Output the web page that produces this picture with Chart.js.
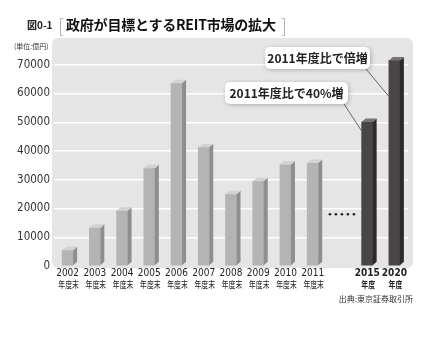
<!DOCTYPE html>
<html lang="ja">
<head>
<meta charset="utf-8">
<title>政府が目標とするREIT市場の拡大</title>
<script src="https://cdn.jsdelivr.net/npm/chart.js@4.4.1/dist/chart.umd.min.js"></script>
<style>
  body { margin: 0; background: #fff; }
  #wrap { position: relative; width: 441px; height: 340px; font-family: "Noto Sans CJK JP", sans-serif; }
  #wrap canvas { position: absolute; left: 0; top: 0; }
  .fig { position: absolute; left: 27px; top: 17px; font-size: 10px; font-weight: bold; color: #222; }
  .br { position: absolute; top: 11px; font-size: 19px; font-weight: 300; color: #aaa; }
  .ttl { position: absolute; left: 66px; top: 14px; font-size: 14px; font-weight: bold; color: #111; letter-spacing: -0.2px; }
  .unit { position: absolute; left: 14px; top: 41px; font-size: 7px; color: #333; }
  .src { position: absolute; right: 28px; top: 293px; font-size: 8px; color: #333; }
</style>
</head>
<body>
<div id="wrap">
  <canvas id="reitChart" width="441" height="340"></canvas>
  <span class="fig">図0-1</span>
  <span class="br" style="left:58px">[</span>
  <span class="ttl">政府が目標とするREIT市場の拡大</span>
  <span class="br" style="left:281px">]</span>
  <span class="unit">(単位:億円)</span>
  <span class="src">出典:東京証券取引所</span>
</div>
<script>
// 年度 (index 10 is the gap shown with dots)
const years = ['2002', '2003', '2004', '2005', '2006', '2007', '2008', '2009', '2010', '2011', '', '2015', '2020'];
const yearSuffix = ['年度末', '年度末', '年度末', '年度末', '年度末', '年度末', '年度末', '年度末', '年度末', '年度末', '', '年度', '年度'];
// 市場規模 (億円)
const marketSize = [5500, 13300, 19200, 34000, 63600, 41300, 25000, 29500, 35300, 35800, null, 50100, 71500];
const yTickStep = 10000;
const yTickMax = 80000;
const gapIndex = 10;
const dotsLevel = 18000;

const narrow = "'Liberation Sans Narrow', 'DejaVu Sans Condensed', 'Noto Sans CJK JP', sans-serif";
const isTarget = i => i > gapIndex;

// bar faces: front / side / top
const lightFace = ['#b4b4b4', '#8e8e8e', '#d2d2d2'];
const darkFace = ['#4a4647', '#2d2a2b', '#787475'];

const panelBg = {
  id: 'panelBg',
  beforeDraw(chart) {
    const { ctx, chartArea: a } = chart;
    const x = a.left - 2, y = 38, w = a.right + 5 - x, h = a.bottom + 2 - y, r = 6;
    ctx.save();
    ctx.fillStyle = '#e5e5e5';
    ctx.beginPath();
    ctx.roundRect(x, y, w, h, r);
    ctx.fill();
    ctx.restore();
  }
};

const bars3d = {
  id: 'bars3d',
  afterDatasetsDraw(chart) {
    const { ctx } = chart;
    const d = 4, dy = 3.5;
    chart.getDatasetMeta(0).data.forEach((bar, i) => {
      if (marketSize[i] == null) return;
      const { x, y, base, width } = bar.getProps(['x', 'y', 'base', 'width'], true);
      const l = x - width / 2, r = x + width / 2;
      const face = isTarget(i) ? darkFace : lightFace;
      ctx.save();
      ctx.fillStyle = face[1];
      ctx.beginPath();
      ctx.moveTo(r, y);
      ctx.lineTo(r + d, y - dy);
      ctx.lineTo(r + d, base - dy);
      ctx.lineTo(r, base);
      ctx.closePath();
      ctx.fill();
      ctx.fillStyle = face[2];
      ctx.beginPath();
      ctx.moveTo(l, y);
      ctx.lineTo(l + d, y - dy);
      ctx.lineTo(r + d, y - dy);
      ctx.lineTo(r, y);
      ctx.closePath();
      ctx.fill();
      ctx.restore();
    });
  }
};

// second line under the year ticks, squeezed like a condensed gothic
const suffixLabels = {
  id: 'suffixLabels',
  afterDraw(chart) {
    const { ctx, scales, chartArea } = chart;
    ctx.save();
    ctx.fillStyle = '#222';
    ctx.textAlign = 'center';
    ctx.textBaseline = 'middle';
    yearSuffix.forEach((s, i) => {
      if (!s) return;
      ctx.save();
      ctx.translate(scales.x.getPixelForValue(i) + 1, chartArea.bottom + 18);
      ctx.scale(0.72, 1);
      ctx.font = (isTarget(i) ? 'bold ' : '') + "9.5px 'Noto Sans CJK JP', sans-serif";
      ctx.fillText(s, 0, 0);
      ctx.restore();
    });
    ctx.restore();
  }
};

function callout(ctx, text, bx, by, bw, bh, tx, ty) {
  ctx.save();
  ctx.strokeStyle = '#444';
  ctx.lineWidth = 0.8;
  ctx.beginPath();
  ctx.moveTo(bx + bw - 4, by + bh);
  ctx.lineTo(tx, ty);
  ctx.stroke();
  ctx.shadowColor = 'rgba(0,0,0,0.25)';
  ctx.shadowBlur = 4;
  ctx.shadowOffsetX = 1;
  ctx.shadowOffsetY = 1;
  ctx.fillStyle = '#fff';
  ctx.beginPath();
  ctx.roundRect(bx, by, bw, bh, 5);
  ctx.fill();
  ctx.shadowColor = 'transparent';
  ctx.fillStyle = '#222';
  ctx.font = "bold 12px 'Noto Sans CJK JP', sans-serif";
  ctx.textAlign = 'center';
  ctx.textBaseline = 'middle';
  ctx.fillText(text, bx + bw / 2, by + bh / 2 + 0.5);
  ctx.restore();
}

const notes = {
  id: 'notes',
  afterDraw(chart) {
    const { ctx, scales } = chart;
    const meta = chart.getDatasetMeta(0).data;
    // gap dots
    const cx = scales.x.getPixelForValue(gapIndex) + 2;
    const cy = scales.y.getPixelForValue(dotsLevel);
    ctx.save();
    ctx.fillStyle = '#222';
    for (let k = -2; k <= 2; k++) {
      ctx.beginPath();
      ctx.arc(cx + k * 6, cy, 1.3, 0, Math.PI * 2);
      ctx.fill();
    }
    ctx.restore();
    const b15 = meta[11], b20 = meta[12];
    callout(ctx, '2011年度比で40%増', 225, 82, 123, 22, b15.x - b15.width / 2, b15.y + 9);
    callout(ctx, '2011年度比で倍増', 265, 47, 105, 22, b20.x - b20.width / 2, b20.y + 36);
  }
};

new Chart(document.getElementById('reitChart'), {
  type: 'bar',
  data: {
    labels: years,
    datasets: [{
      data: marketSize,
      backgroundColor: marketSize.map((v, i) => isTarget(i) ? darkFace[0] : lightFace[0]),
      barThickness: 11,
      borderWidth: 0
    }]
  },
  plugins: [panelBg, bars3d, suffixLabels, notes],
  options: {
    responsive: false,
    animation: false,
    devicePixelRatio: 1,
    layout: { padding: { left: 0, right: 33, top: 36, bottom: 44 } },
    plugins: { legend: { display: false }, tooltip: { enabled: false } },
    scales: {
      x: {
        grid: { display: false, drawTicks: false },
        border: { display: false },
        afterFit(s) { s.height = 30; },
        ticks: {
          padding: 2,
          maxRotation: 0,
          autoSkip: false,
          color: '#222',
          font: c => ({ family: narrow, size: 10, lineHeight: 1.0, weight: isTarget(c.index) ? 'bold' : 'normal' })
        }
      },
      y: {
        min: 0,
        max: yTickMax,
        border: { display: false },
        afterFit(s) { s.width = 54; },
        grid: {
          drawTicks: false,
          lineWidth: 1.5,
          color: c => (c.tick && c.tick.value > 0) ? '#ffffff' : 'rgba(0,0,0,0)'
        },
        ticks: {
          stepSize: yTickStep,
          padding: 4,
          color: '#333',
          font: { family: narrow, size: 11.5 },
          callback: v => v === yTickMax ? null : String(v)
        }
      }
    }
  }
});
</script>
</body>
</html>
